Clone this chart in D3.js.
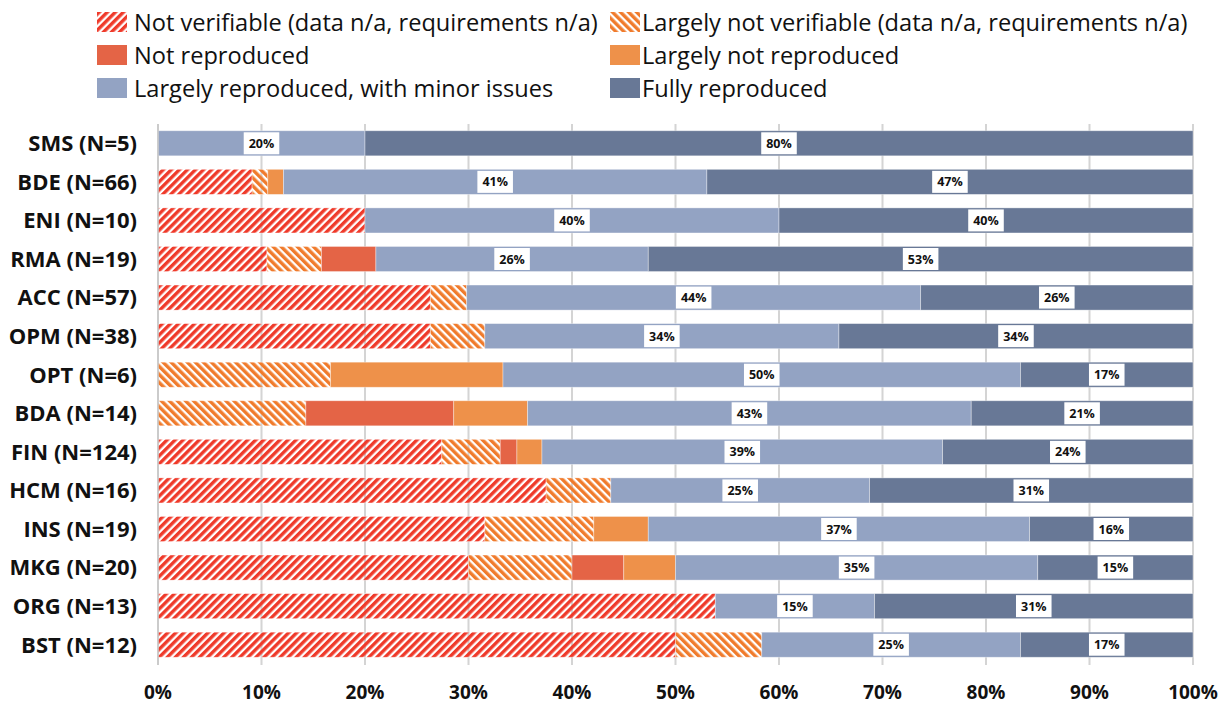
<!DOCTYPE html>
<html>
<head>
<meta charset="utf-8">
<script src="https://cdn.jsdelivr.net/npm/d3@7"></script>
<style>
  body { margin: 0; background: #fff; }
  svg { display: block; font-family: "Open Sans", Lato, sans-serif; }
</style>
</head>
<body>
<div class="stage"></div>
<script>
// study areas and sample sizes
var categories = ["SMS", "BDE", "ENI", "RMA", "ACC", "OPM", "OPT", "BDA", "FIN", "HCM", "INS", "MKG", "ORG", "BST"];
var sampleSizes = [5, 66, 10, 19, 57, 38, 6, 14, 124, 16, 19, 20, 13, 12];

// number of studies in each outcome class (per category)
var notVerifiable        = [0, 6, 2, 2, 15, 10, 0, 0, 34, 6, 6, 6, 7, 6];
var largelyNotVerifiable = [0, 1, 0, 1, 2, 2, 1, 2, 7, 1, 2, 2, 0, 1];
var notReproduced        = [0, 0, 0, 1, 0, 0, 0, 2, 2, 0, 0, 1, 0, 0];
var largelyNotReproduced = [0, 1, 0, 0, 0, 0, 1, 1, 3, 0, 1, 1, 0, 0];
var largelyReproduced    = [1, 27, 4, 5, 25, 13, 3, 6, 48, 4, 7, 7, 2, 3];
var fullyReproduced      = [4, 31, 4, 10, 15, 13, 1, 3, 30, 5, 3, 3, 4, 2];

var seriesNames = [
  "Not verifiable (data n/a, requirements n/a)",
  "Largely not verifiable (data n/a, requirements n/a)",
  "Not reproduced",
  "Largely not reproduced",
  "Largely reproduced, with minor issues",
  "Fully reproduced"
];
var xTicks = [0, 0.1, 0.2, 0.3, 0.4, 0.5, 0.6, 0.7, 0.8, 0.9, 1];

var W = 1225, H = 704;
var seriesCounts = [notVerifiable, largelyNotVerifiable, notReproduced,
  largelyNotReproduced, largelyReproduced, fullyReproduced];
var keys = d3.range(seriesNames.length);
var fills = ["url(#hatchRed)", "url(#hatchOrange)", "#e46446", "#ee914a", "#93a3c3", "#687896"];
var labelled = [false, false, false, false, true, true];

var rows = categories.map(function(c, i){
  var r = { name: c + " (N=" + sampleSizes[i] + ")" };
  keys.forEach(function(k){ r[k] = seriesCounts[k][i] / sampleSizes[i] });
  return r;
});

var svg = d3.select(".stage")
  .append("svg")
  .attr("width", W)
  .attr("height", H);

var defs = svg.append("defs");
function hatch(id, color, angle){
  var p = defs.append("pattern")
    .attr("id", id)
    .attr("patternUnits", "userSpaceOnUse")
    .attr("width", 5.7)
    .attr("height", 10)
    .attr("patternTransform", "rotate(" + angle + ")");
  p.append("rect")
    .attr("x", 0).attr("y", 0)
    .attr("width", 3.4).attr("height", 10)
    .attr("fill", color);
}
hatch("hatchRed", "#ef3a2a", 45);
hatch("hatchOrange", "#f07b2c", -45);

var x = d3.scaleLinear().domain([0, 1]).range([158, 1193]);
var y = d3.scaleBand().domain(rows.map(function(d){ return d.name }))
  .range([124, 664]).paddingInner(0.35).paddingOuter(0.175);

// grid
svg.append("g")
  .selectAll("line")
  .data(xTicks)
  .join("line")
  .attr("x1", function(d){ return x(d) })
  .attr("x2", function(d){ return x(d) })
  .attr("y1", 124)
  .attr("y2", 665)
  .attr("stroke", "#d4d4d4")
  .attr("stroke-width", 2);

var stack = d3.stack().keys(keys);
var layers = stack(rows);

var bars = svg.append("g")
  .selectAll("g")
  .data(layers)
  .join("g")
  .attr("fill", function(d){ return fills[d.key] });

bars.selectAll("rect")
  .data(function(d){ return d })
  .join("rect")
  .attr("x", function(d){ return x(d[0]) })
  .attr("y", function(d){ return y(d.data.name) })
  .attr("width", function(d){ return x(d[1]) - x(d[0]) })
  .attr("height", y.bandwidth())
  .attr("stroke", "rgba(255,255,255,0.45)")
  .attr("stroke-width", 0.8);

// data labels
var fmt = d3.format(".0%");
layers.forEach(function(layer){
  if (!labelled[layer.key]) return;
  layer.forEach(function(d){
    if (d[1] - d[0] <= 0) return;
    var cx = (x(d[0]) + x(d[1])) / 2;
    var cy = y(d.data.name) + y.bandwidth() / 2;
    var g = svg.append("g");
    var t = g.append("text")
      .attr("x", cx)
      .attr("y", cy)
      .attr("dy", "0.36em")
      .attr("text-anchor", "middle")
      .attr("font-size", 12.5)
      .attr("font-weight", "bold")
      .attr("fill", "#111")
      .text(fmt(d[1] - d[0]));
    var w = t.node().getComputedTextLength() + 10;
    g.insert("rect", "text")
      .attr("x", cx - w / 2)
      .attr("y", cy - 11)
      .attr("width", w)
      .attr("height", 22)
      .attr("fill", "#fff");
  });
});

// left axis line
svg.append("line")
  .attr("x1", x(0)).attr("x2", x(0))
  .attr("y1", 124).attr("y2", 665)
  .attr("stroke", "#c8c8c8")
  .attr("stroke-width", 1.5);

// category labels
svg.append("g")
  .selectAll("text")
  .data(rows)
  .join("text")
  .attr("x", 137)
  .attr("y", function(d){ return y(d.name) + y.bandwidth() / 2 })
  .attr("dy", "0.36em")
  .attr("text-anchor", "end")
  .attr("font-size", 22)
  .attr("font-weight", "bold")
  .attr("fill", "#111")
  .text(function(d){ return d.name });

// x tick labels
svg.append("g")
  .selectAll("text")
  .data(xTicks)
  .join("text")
  .attr("x", function(d){ return x(d) })
  .attr("y", 692)
  .attr("dy", "0.36em")
  .attr("text-anchor", "middle")
  .attr("font-size", 19)
  .attr("font-weight", "bold")
  .attr("fill", "#111")
  .text(function(d){ return fmt(d) });

// legend
var legend = svg.append("g")
  .selectAll("g")
  .data(keys)
  .join("g")
  .attr("transform", function(k){
    return "translate(" + (k % 2 ? 610 : 97) + "," + (12 + Math.floor(k / 2) * 33) + ")";
  });
legend.append("rect")
  .attr("width", 30)
  .attr("height", 20)
  .attr("fill", function(k){ return fills[k] });
legend.append("text")
  .attr("x", function(k){ return k % 2 ? 32 : 37 })
  .attr("y", 10)
  .attr("dy", "0.36em")
  .attr("font-size", 23.6)
  .attr("fill", "#111")
  .text(function(k){ return seriesNames[k] });
</script>
</body>
</html>
